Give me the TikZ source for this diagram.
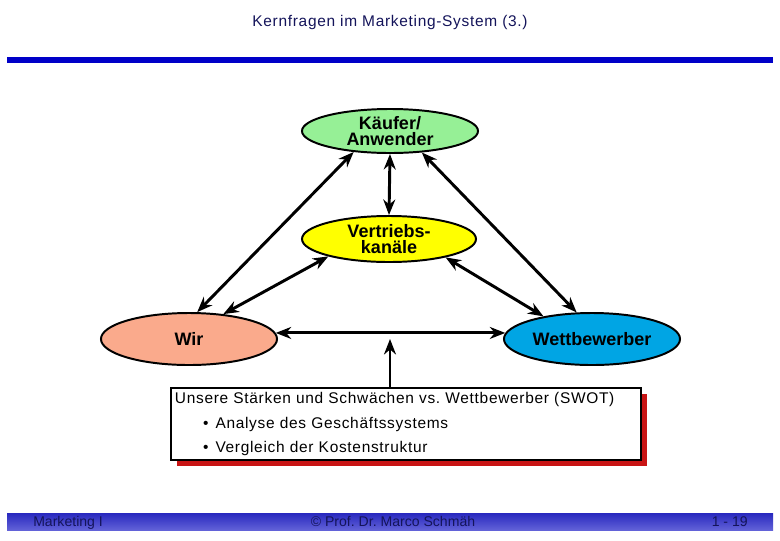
\documentclass[tikz,border=0pt]{standalone}
\usepackage{fontspec}
\setmainfont{Liberation Sans}
\newfontfamily\weit[LetterSpace=4.5]{Liberation Sans}
\usetikzlibrary{shapes.geometric,arrows.meta,shadows}
\frenchspacing

\definecolor{kaeufergruen}{RGB}{150,240,150}
\definecolor{vertriebgelb}{RGB}{255,255,0}
\definecolor{wirlachs}{RGB}{250,170,140}
\definecolor{wettblau}{RGB}{0,165,228}
\definecolor{balkenblau}{RGB}{0,0,200}
\definecolor{schattenrot}{RGB}{200,20,20}
\definecolor{textnavy}{RGB}{20,20,90}
\definecolor{fussdunkel}{RGB}{40,40,190}
\definecolor{fusshell}{RGB}{185,185,255}

\begin{document}
\begin{tikzpicture}[x=0.025cm, y=-0.025cm]
    % Stile
    \tikzstyle{ovale}=[ellipse, draw, line width=1.4pt, inner sep=0pt, align=center, font=\fontsize{12.8}{11.8}\selectfont\bfseries]
    \tikzstyle{pfeil}=[{Stealth[length=11pt,width=8.5pt]}-{Stealth[length=11pt,width=8.5pt]}, line width=2.1pt]
    \tikzstyle{pfeil1}=[-{Stealth[length=11pt,width=8.5pt]}, line width=2.1pt]
    \tikzstyle{swotbox}=[rectangle, draw, fill=white, line width=1.2pt, minimum width=11.75cm, minimum height=1.8cm, text width=11.55cm, align=left, inner sep=2.5pt, font=\weit\fontsize{11}{17.7}\selectfont, drop shadow={shadow xshift=4.3pt, shadow yshift=-4.3pt, fill=schattenrot, opacity=1}]
    \tikzstyle{fusstext}=[text=textnavy, font=\fontsize{10}{12}\selectfont, inner sep=0pt]

    \useasboundingbox (0,0) rectangle (780,540);

    % Titel und Balken
    \node[text=textnavy, font=\weit\fontsize{11}{13}\selectfont] (titel) at (390,22) {Kernfragen im Marketing-System (3.)};
    \fill[balkenblau] (7,57) rectangle (773,63);

    % Ellipsen
    \node[ovale, fill=kaeufergruen, minimum width=4.4cm, minimum height=1.1cm] (kaeufer) at (390,131) {K\"aufer/\\Anwender};
    \node[ovale, fill=vertriebgelb, minimum width=4.35cm, minimum height=1.15cm] (vertrieb) at (389,239) {Vertriebs-\\kan\"ale};
    \node[ovale, fill=wirlachs, minimum width=4.4cm, minimum height=1.3cm] (wir) at (189,339) {Wir};
    \node[ovale, fill=wettblau, minimum width=4.4cm, minimum height=1.3cm] (wettbewerber) at (592,339) {Wettbewerber};

    % Pfeile
    \draw[pfeil] (kaeufer.210) -- (wir.73);
    \draw[pfeil] (kaeufer.326) -- (wettbewerber.120);
    \draw[pfeil] (kaeufer.south) -- (vertrieb.north);
    \draw[pfeil] (vertrieb.196) -- (wir.36);
    \draw[pfeil] (vertrieb.342) -- (wettbewerber.155);
    \draw[pfeil] (wir.4) -- (wettbewerber.176);

    % SWOT-Kasten
    \node[swotbox] (swot) at (406,424) {Unsere St\"arken und Schw\"achen vs. Wettbewerber (SWOT)\\
        \hspace*{20pt}\textbullet\hspace{5pt}Analyse des Gesch\"aftssystems\\
        \hspace*{20pt}\textbullet\hspace{5pt}Vergleich der Kostenstruktur};
    \coordinate (ziel) at (390,339);
    \draw[pfeil1] (swot.north -| ziel) -- (ziel);

    % Fusszeile
    \shade[top color=fussdunkel, middle color=fusshell, bottom color=fussdunkel!60!fusshell] (7,513) rectangle (773,530);
    \node[fusstext, anchor=base west] (fach) at (33,526) {Marketing I};
    \node[fusstext, anchor=base] (autor) at (393,526) {\textcopyright\ Prof. Dr. Marco Schm\"ah};
    \node[fusstext, anchor=base east] (seite) at (748,526) {1 - 19};
\end{tikzpicture}
\end{document}
